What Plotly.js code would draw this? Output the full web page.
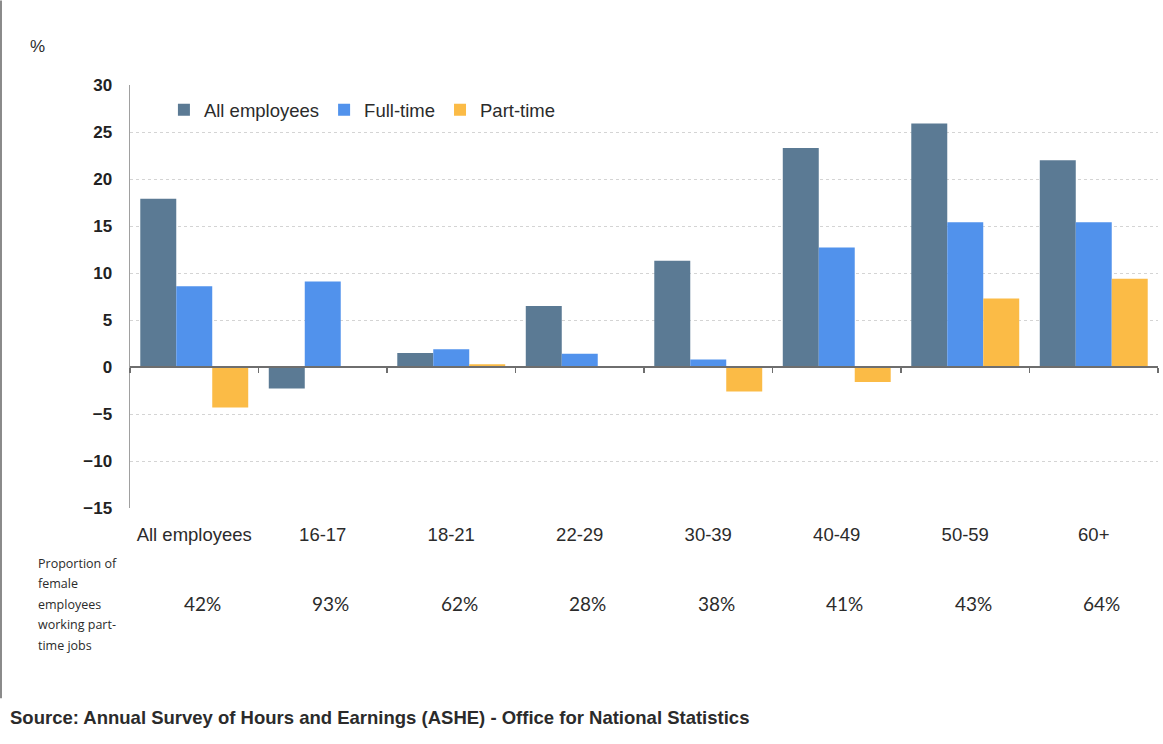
<!DOCTYPE html>
<html>
<head>
<meta charset="utf-8">
<script src="https://cdn.plot.ly/plotly-3.0.1.min.js"></script>
<style>html,body{margin:0;padding:0;background:#fff;}#chart{width:1163px;height:744px;}</style>
</head>
<body>
<div id="chart"></div>
<script>
const categories = ["All employees", "16-17", "18-21", "22-29", "30-39", "40-49", "50-59", "60+"];
const allEmployees = [17.9, -2.3, 1.5, 6.5, 11.3, 23.3, 25.9, 22.0];
const fullTime = [8.6, 9.1, 1.9, 1.4, 0.8, 12.7, 15.4, 15.4];
const partTime = [-4.3, 0, 0.3, 0.1, -2.6, -1.6, 7.3, 9.4];
const partTimeShare = ["42%", "93%", "62%", "28%", "38%", "41%", "43%", "64%"];
const seriesNames = ["All employees", "Full-time", "Part-time"];
const seriesColors = ["#5b7a94", "#5192ec", "#fbbb46"];
const rowLabelLines = ["Proportion of", "female", "employees", "working part-", "time jobs"];

const txt = "#2b2b2b";
const traces = [allEmployees, fullTime, partTime].map((vals, i) => ({
  type: "bar",
  x: categories,
  y: vals,
  name: seriesNames[i],
  marker: {color: seriesColors[i], line: {width: 0}},
  hoverinfo: "x+y+name"
}));
// invisible helper trace for the zero-line axis with boundary ticks
traces.push({
  type: "scatter", mode: "markers", x: categories, y: categories.map(() => null),
  xaxis: "x2", showlegend: false, hoverinfo: "skip"
});

const annotations = partTimeShare.map((t, i) => ({
  text: t, x: categories[i], xref: "x", y: -0.225, yref: "paper",
  yanchor: "middle", xanchor: "center", showarrow: false, xshift: 8,
  font: {family: "Lato, 'Noto Sans', sans-serif", size: 19, color: txt}
}));
annotations.push({
  text: "%", x: -0.09, xref: "paper", y: 1.09, yref: "paper",
  xanchor: "center", yanchor: "middle", showarrow: false,
  font: {family: "'Liberation Sans', Arial, sans-serif", size: 17, color: txt}
});
rowLabelLines.forEach((line, i) => {
  annotations.push({
    text: line, x: -0.0915, xref: "paper", y: -0.131 - i * 0.0485, yref: "paper",
    xanchor: "left", yanchor: "middle", align: "left", showarrow: false,
    font: {family: "'Open Sans', 'Noto Sans', sans-serif", size: 12.5, color: txt}
  });
});
annotations.push({
  text: "<b>Source: Annual Survey of Hours and Earnings (ASHE) - Office for National Statistics</b>",
  x: -0.1187, xref: "paper", y: -0.495, yref: "paper",
  xanchor: "left", yanchor: "middle", showarrow: false,
  font: {family: "'Liberation Sans', Arial, sans-serif", size: 18.5, color: txt}
});

const layout = {
  width: 1163, height: 744,
  margin: {l: 130, r: 5, t: 85, b: 236},
  paper_bgcolor: "#fff", plot_bgcolor: "#fff",
  barmode: "group", bargap: 0.16, bargroupgap: 0,
  showlegend: true,
  legend: {
    orientation: "h", x: 0.033, y: 0.985, xanchor: "left", yanchor: "top",
    font: {family: "'Liberation Sans', Arial, sans-serif", size: 18.5, color: txt},
    itemwidth: 30, bgcolor: "rgba(0,0,0,0)", traceorder: "normal"
  },
  xaxis: {
    type: "category", range: [-0.5, 7.5], showline: false, ticks: "",
    showgrid: false, zeroline: false, ticklabelstandoff: 13,
    tickfont: {family: "'Liberation Sans', Arial, sans-serif", size: 18.5, color: txt}
  },
  xaxis2: {
    type: "category", overlaying: "x", anchor: "free", position: 1/3,
    side: "bottom", range: [-0.5, 7.5], showline: true, linecolor: "#6e6e6e",
    linewidth: 2, ticks: "outside", ticklen: 5, tickwidth: 1.5, tickcolor: "#6e6e6e",
    tickson: "boundaries", showticklabels: false, showgrid: false, zeroline: false
  },
  yaxis: {
    range: [-15, 30], dtick: 5, tick0: 0, showline: true, linecolor: "#a0a0a0",
    linewidth: 1.5, ticks: "", showgrid: true, gridcolor: "#d4d4d4",
    griddash: "dot", gridwidth: 1, zeroline: false, ticklabelstandoff: 13,
    tickfont: {family: "'Liberation Sans', Arial, sans-serif", size: 17, color: "#222", weight: "bold"}
  },
  shapes: [{
    type: "line", xref: "paper", yref: "paper", x0: -0.1255, x1: -0.1255,
    y0: -0.45, y1: 1.2, line: {color: "#8a8a8a", width: 2}
  }],
  annotations: annotations
};

Plotly.newPlot("chart", traces, layout, {displayModeBar: false, staticPlot: true});
</script>
</body>
</html>
